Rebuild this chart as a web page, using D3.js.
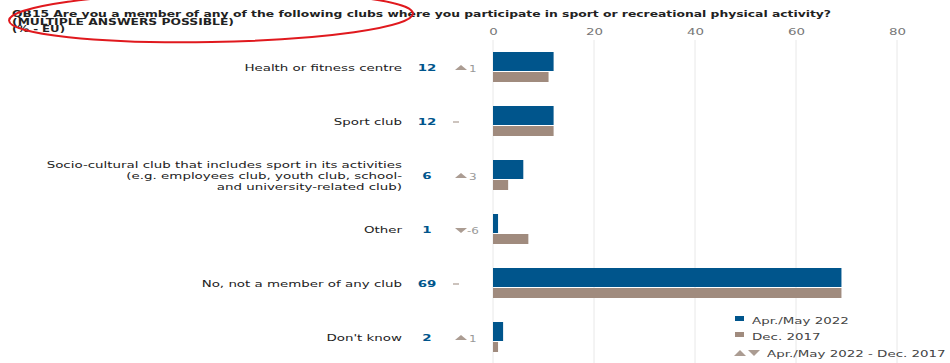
<!DOCTYPE html>
<html>
<head>
<meta charset="utf-8">
<script src="https://cdn.jsdelivr.net/npm/d3@7"></script>
<style>
  body { margin: 0; background: #fff; }
  svg { display: block; font-family: "DejaVu Sans", Verdana, sans-serif; }
</style>
</head>
<body>
<div id="chart"></div>
<script>
// chart data
var categories = [
  ["Health or fitness centre"],
  ["Sport club"],
  ["Socio-cultural club that includes sport in its activities", "(e.g. employees club, youth club, school-", "and university-related club)"],
  ["Other"],
  ["No, not a member of any club"],
  ["Don't know"]
];
var current = [12, 12, 6, 1, 69, 2];     // Apr./May 2022
var previous = [11, 12, 3, 7, 69, 1];    // Dec. 2017
var change = [1, 0, 3, -6, 0, 1];
var ticks = [0, 20, 40, 60, 80];
var seriesNames = ["Apr./May 2022", "Dec. 2017", "Apr./May 2022 - Dec. 2017"];

var blue = "#00558c", grey = "#a08b7e", arrowCol = "#ab9c92";
var k = 1.41; // the original is stretched sideways

var svg = d3.select("#chart")
  .append("svg")
  .attr("width", 950).attr("height", 363);

var x = d3.scaleLinear().domain([0, 80]).range([493, 897]);
var y = d3.scaleBand().domain(d3.range(categories.length)).range([52, 376]);

// text stretched horizontally, anchored at (px, py)
function stext(parent, px, py) {
  return parent.append("g")
    .attr("transform", "translate(" + px + "," + py + ") scale(" + k + ",1)")
    .append("text");
}

// title
var title = svg.append("g").attr("font-weight", "bold").attr("font-size", 8).attr("fill", "#222");
title.append("text").attr("x", 12).attr("y", 17).text("QB15 Are you a member of any of the following clubs where you participate in sport or recreational physical activity?")
  .attr("textLength", 819).attr("lengthAdjust", "spacingAndGlyphs");
title.append("text").attr("x", 12).attr("y", 24.5).text("(MULTIPLE ANSWERS POSSIBLE)")
  .attr("textLength", 222).attr("lengthAdjust", "spacingAndGlyphs");
title.append("text").attr("x", 12).attr("y", 32).text("(% - EU)")
  .attr("textLength", 53).attr("lengthAdjust", "spacingAndGlyphs");

// gridlines
svg.append("g")
  .selectAll("line")
  .data(ticks)
  .join("line")
  .attr("x1", d => x(d)).attr("x2", d => x(d))
  .attr("y1", 40).attr("y2", 363)
  .attr("stroke", "#e8e8e8").attr("stroke-width", 1);

// top axis labels
var axis = svg.append("g")
  .attr("transform", "translate(0,35)")
  .call(d3.axisTop(x).tickValues(ticks).tickSize(0).tickPadding(0));
axis.select(".domain").remove();
axis.selectAll("text")
  .attr("font-family", "DejaVu Sans, sans-serif")
  .attr("font-size", 9.5).attr("fill", "#777")
  .attr("transform", "scale(" + k + ",1)");

// bars
var rows = svg.append("g")
  .selectAll("g")
  .data(categories)
  .join("g")
  .attr("transform", (d, i) => "translate(0," + y(i) + ")");

rows.append("rect")
  .attr("x", x(0)).attr("y", 0)
  .attr("width", (d, i) => x(current[i]) - x(0))
  .attr("height", 19)
  .attr("fill", blue);

rows.append("rect")
  .attr("x", x(0)).attr("y", 20)
  .attr("width", (d, i) => x(previous[i]) - x(0))
  .attr("height", 10)
  .attr("fill", grey);

rows.each(function(d, i) {
  var g = d3.select(this);

  // category label
  var top = 19 - (d.length - 1) * 5.5;
  d.forEach(function(line, j) {
    stext(g, 402, top + j * 11)
      .attr("text-anchor", "end")
      .attr("font-size", 9.5).attr("fill", "#222")
      .text(line);
  });

  // value
  stext(g, 427, 19)
    .attr("text-anchor", "middle")
    .attr("font-size", 9.5).attr("font-weight", "bold").attr("fill", blue)
    .text(current[i]);

  // change vs previous wave
  var c = change[i];
  if (c == 0) {
    g.append("line").attr("x1", 453).attr("x2", 459).attr("y1", 16).attr("y2", 16)
      .attr("stroke", arrowCol).attr("stroke-width", 1.2);
  } else {
    var pts = c > 0 ? "455,18 461,13 467,18" : "455,14 461,19 467,14";
    g.append("polygon").attr("points", pts).attr("fill", arrowCol);
    stext(g, c > 0 ? 469 : 467, 19.5)
      .attr("font-size", 8.5).attr("fill", "#999")
      .text(c > 0 ? c : "-" + Math.abs(c));
  }
});

// legend
var legend = svg.append("g").attr("fill", "#444");
legend.append("rect").attr("x", 735).attr("y", 316).attr("width", 9).attr("height", 5).attr("fill", blue);
stext(legend, 752, 324).attr("font-size", 9.5).text(seriesNames[0]);
legend.append("rect").attr("x", 735).attr("y", 332).attr("width", 9).attr("height", 5).attr("fill", grey);
stext(legend, 752, 340).attr("font-size", 9.5).text(seriesNames[1]);
legend.append("polygon").attr("points", "734,356 740,350 746,356").attr("fill", arrowCol);
legend.append("polygon").attr("points", "748,350 760,350 754,356").attr("fill", arrowCol);
stext(legend, 767, 357).attr("font-size", 9.5).text(seriesNames[2]);

// red annotation ellipse round the question
svg.append("ellipse")
  .attr("cx", 211).attr("cy", 17)
  .attr("rx", 202).attr("ry", 25)
  .attr("transform", "rotate(-1 211 17)")
  .attr("fill", "none").attr("stroke", "#e0191e").attr("stroke-width", 2);
</script>
</body>
</html>
